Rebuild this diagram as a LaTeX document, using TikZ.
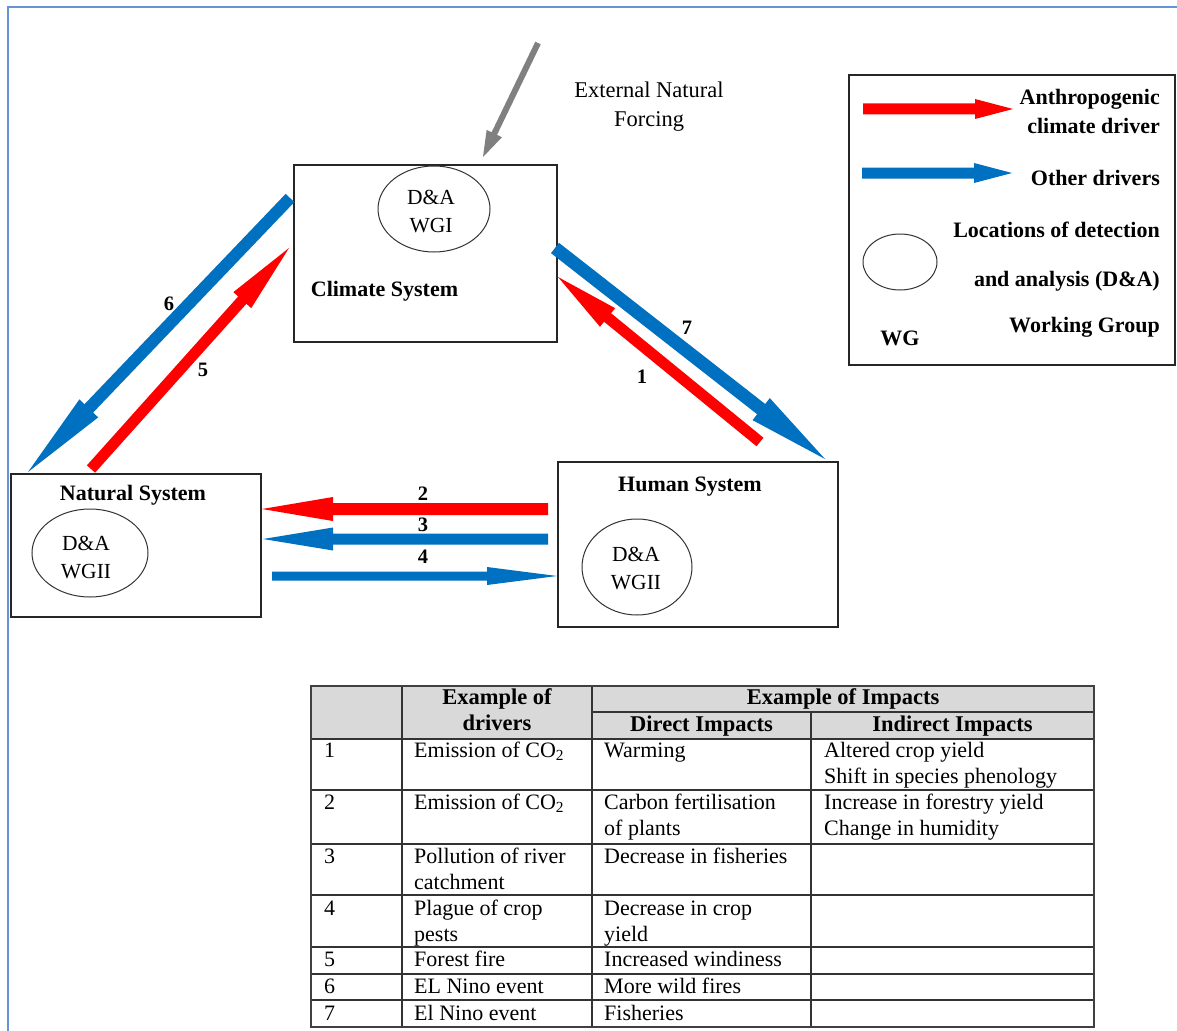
\documentclass[tikz,border=0pt]{standalone}
\usepackage{fontspec}
\setmainfont{Liberation Serif}
\usetikzlibrary{calc,shapes.geometric}

\definecolor{redarrow}{RGB}{255,0,0}
\definecolor{bluearrow}{RGB}{0,112,192}
\definecolor{grayarrow}{RGB}{128,128,128}
\definecolor{framecol}{RGB}{100,148,210}
\definecolor{headfill}{RGB}{217,217,217}

% Filled block arrow: colour, tail, tip, half shaft width, head length, half head width
\newcommand\fatarrow[6]{%
  \coordinate (hb) at ($(#3)!#5!(#2)$);
  \fill[#1] ($(#2)!#4!-90:(#3)$) -- ($(hb)!#4!-90:(#3)$) -- ($(hb)!#6!-90:(#3)$)
    -- (#3) -- ($(hb)!#6!90:(#3)$) -- ($(hb)!#4!90:(#3)$) -- ($(#2)!#4!90:(#3)$) -- cycle;
}

\tikzset{
  sysbox/.style={draw=black!85, line width=1.3pt, inner sep=0pt},
  dabubble/.style={ellipse, draw=black!80, line width=1pt, inner sep=0pt},
  datext/.style={inner sep=0pt, align=center, font=\fontsize{21.5}{28}\selectfont},
  lbl/.style={inner sep=0pt, text height=1.25em, text depth=0em},
  blbl/.style={lbl, font=\fontsize{22}{27}\selectfont\bfseries},
  numlbl/.style={lbl, font=\fontsize{20.5}{24}\selectfont\bfseries},
  cellt/.style={lbl, anchor=west, font=\fontsize{22}{26}\selectfont},
  cellh/.style={lbl, font=\fontsize{22.5}{26}\selectfont\bfseries},
  tline/.style={draw=black!80, line width=1.5pt},
}

\begin{document}
\begin{tikzpicture}[x=1pt,y=-1pt,font=\fontsize{22}{27}\selectfont]
\useasboundingbox (0,0) rectangle (1177,1030);
\clip (0,0) rectangle (1177,1030);
\fill[white] (0,0) rectangle (1177,1030);

% page frame
\draw[framecol, line width=1.5pt] (8,1045) -- (8,7) -- (1195,7);

% ---------- systems ----------
\node[sysbox, minimum width=263pt, minimum height=177pt] (clim) at (425.5,253.5) {};
\node[dabubble, minimum width=112pt, minimum height=86pt] (climda) at (434,209) {};
\node[datext] (climdat) at (431,212) {D\&A\\WGI};
\node[blbl] (climlbl) at (384.5,290) {Climate System};

\node[sysbox, minimum width=250pt, minimum height=143pt] (nat) at (136,545.5) {};
\node[blbl] (natlbl) at (133,494) {Natural System};
\node[dabubble, minimum width=116pt, minimum height=88pt] (natda) at (90,553) {};
\node[datext] (natdat) at (86,558) {D\&A\\WGII};

\node[sysbox, minimum width=280pt, minimum height=165pt] (hum) at (698,544.5) {};
\node[blbl] (humlbl) at (690,485) {Human System};
\node[dabubble, minimum width=110pt, minimum height=96pt] (humda) at (637,567) {};
\node[datext] (humdat) at (636,569) {D\&A\\WGII};

% external forcing
\node[inner sep=0pt, align=center, font=\fontsize{22.5}{29}\selectfont] (ext) at (649,107) {External Natural\\Forcing};
\coordinate (gs) at (538,43);
\coordinate (ge) at (483,157);
\fatarrow{grayarrow}{gs}{ge}{3pt}{26pt}{8.5pt}

% ---------- driver arrows ----------
\coordinate (a6s) at (290,198);  \coordinate (a6e) at (28,472);
\coordinate (a5s) at (91,469);   \coordinate (a5e) at (289,248);
\coordinate (a7s) at (555,248);  \coordinate (a7e) at (825,459);
\coordinate (a1s) at (760,442);  \coordinate (a1e) at (558,277);
\coordinate (a2s) at (548,509);  \coordinate (a2e) at (262,509);
\coordinate (a3s) at (548,539);  \coordinate (a3e) at (263,539);
\coordinate (a4s) at (272,576);  \coordinate (a4e) at (557,576);

\fatarrow{bluearrow}{a6s}{a6e}{6pt}{88pt}{13pt}
\fatarrow{redarrow}{a5s}{a5e}{5.5pt}{70pt}{12pt}
\fatarrow{bluearrow}{a7s}{a7e}{6.5pt}{81pt}{14pt}
\fatarrow{redarrow}{a1s}{a1e}{5.5pt}{64pt}{12pt}
\fatarrow{redarrow}{a2s}{a2e}{6pt}{71pt}{12pt}
\fatarrow{bluearrow}{a3s}{a3e}{5.5pt}{70pt}{11.5pt}
\fatarrow{bluearrow}{a4s}{a4e}{4.5pt}{70pt}{9pt}

\node[numlbl] (n6) at (169,304) {6};
\node[numlbl] (n5) at (203,370) {5};
\node[numlbl] (n7) at (687,328) {7};
\node[numlbl] (n1) at (642,377) {1};
\node[numlbl] (n2) at (423,494) {2};
\node[numlbl] (n3) at (423,525) {3};
\node[numlbl] (n4) at (423,557) {4};

% ---------- legend ----------
\node[draw=black!85, line width=1.3pt, minimum width=326pt, minimum height=290pt, inner sep=0pt] (leg) at (1012,220) {};
\coordinate (lrs) at (863,109); \coordinate (lre) at (1013,109);
\coordinate (lbs) at (862,173); \coordinate (lbe) at (1012,173);
\fatarrow{redarrow}{lrs}{lre}{5.5pt}{38pt}{10pt}
\fatarrow{bluearrow}{lbs}{lbe}{5.5pt}{38pt}{10pt}
\node[blbl, anchor=east] (lg1) at (1160,98) {Anthropogenic};
\node[blbl, anchor=east] (lg2) at (1160,127) {climate driver};
\node[blbl, anchor=east] (lg3) at (1160,179) {Other drivers};
\node[blbl, anchor=east] (lg4) at (1160,231) {Locations of detection};
\node[blbl, anchor=east] (lg5) at (1160,280) {and analysis (D\&A)};
\node[blbl, anchor=east] (lg6) at (1160,326) {Working Group};
\node[ellipse, draw=black!80, line width=1pt, minimum width=74pt, minimum height=56pt, inner sep=0pt] (lgell) at (900,262) {};
\node[blbl] (lgwg) at (900,339) {WG};

% ---------- table ----------
\fill[headfill] (311,686) rectangle (1094,739);
\foreach \yy in {739,790,844,895,947,974,1000}
  \draw[tline] (311,\yy) -- (1094,\yy);
\draw[tline] (592,712) -- (1094,712);
\draw[tline] (402,686) -- (402,1027);
\draw[tline] (592,686) -- (592,1027);
\draw[tline] (811,712) -- (811,1027);
\draw[draw=black!75, line width=2pt] (311,686) rectangle (1094,1027);

\node[cellh] (h1) at (497,698) {Example of};
\node[cellh] (h2) at (497,724) {drivers};
\node[cellh] (h3) at (843,698) {Example of Impacts};
\node[cellh] (h4) at (701.5,725) {Direct Impacts};
\node[cellh] (h5) at (952.5,725) {Indirect Impacts};

\node[cellt] (r1a) at (324,751) {1};
\node[cellt] (r1b) at (414,751) {Emission of CO\textsubscript{2}};
\node[cellt] (r1c) at (604,751) {Warming};
\node[cellt] (r1d) at (824,751) {Altered crop yield};
\node[cellt] (r1e) at (824,777) {Shift in species phenology};

\node[cellt] (r2a) at (324,803) {2};
\node[cellt] (r2b) at (414,803) {Emission of CO\textsubscript{2}};
\node[cellt] (r2c) at (604,803) {Carbon fertilisation};
\node[cellt] (r2d) at (604,829) {of plants};
\node[cellt] (r2e) at (824,803) {Increase in forestry yield};
\node[cellt] (r2f) at (824,829) {Change in humidity};

\node[cellt] (r3a) at (324,857) {3};
\node[cellt] (r3b) at (414,857) {Pollution of river};
\node[cellt] (r3c) at (414,883) {catchment};
\node[cellt] (r3d) at (604,857) {Decrease in fisheries};

\node[cellt] (r4a) at (324,909) {4};
\node[cellt] (r4b) at (414,909) {Plague of crop};
\node[cellt] (r4c) at (414,935) {pests};
\node[cellt] (r4d) at (604,909) {Decrease in crop};
\node[cellt] (r4e) at (604,935) {yield};

\node[cellt] (r5a) at (324,960) {5};
\node[cellt] (r5b) at (414,960) {Forest fire};
\node[cellt] (r5c) at (604,960) {Increased windiness};

\node[cellt] (r6a) at (324,987) {6};
\node[cellt] (r6b) at (414,987) {EL Nino event};
\node[cellt] (r6c) at (604,987) {More wild fires};

\node[cellt] (r7a) at (324,1014) {7};
\node[cellt] (r7b) at (414,1014) {El Nino event};
\node[cellt] (r7c) at (604,1014) {Fisheries};
\end{tikzpicture}
\end{document}
